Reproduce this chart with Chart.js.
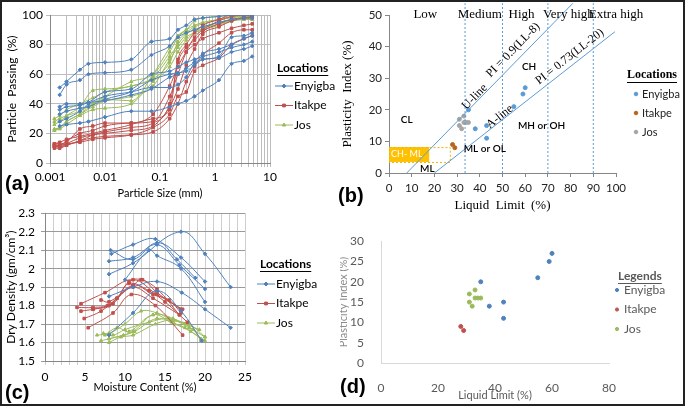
<!DOCTYPE html>
<html>
<head>
<meta charset="utf-8">
<script src="https://cdn.jsdelivr.net/npm/chart.js@4.4.1/dist/chart.umd.min.js"></script>
<style>
  body { margin: 0; background: #fff; }
  #wrap { position: relative; width: 685px; height: 406px; overflow: hidden; background: #fff; }
  canvas { position: absolute; }
  .tag { position: absolute; font: bold 20px "Liberation Sans", Arial, sans-serif; color: #000; line-height: 22px; }
  #frame { position: absolute; left: 0; top: 0; width: 681px; height: 402px; border: 2px solid #222; pointer-events: none; }
</style>
</head>
<body>
<div id="wrap">
  <canvas id="gradingChart" width="340" height="200" style="left:0;top:0"></canvas>
  <canvas id="plasticityChart" width="345" height="215" style="left:340px;top:0"></canvas>
  <canvas id="compactionChart" width="340" height="206" style="left:0;top:200px"></canvas>
  <canvas id="scatterChart" width="345" height="181" style="left:340px;top:225px"></canvas>
  <div class="tag" style="left:5px;top:172px">(a)</div>
  <div class="tag" style="left:338px;top:184px">(b)</div>
  <div class="tag" style="left:5px;top:381px">(c)</div>
  <div class="tag" style="left:340px;top:375px">(d)</div>
  <div id="frame"></div>
</div>
<script>
// ---------- data ----------
const locations = ['Enyigba', 'Itakpe', 'Jos'];

// (a) particle size distribution
const sizeTickLabels = ['0.001', '0.01', '0.1', '1', '10'];
const sieveSizes = [0.15, 0.212, 0.3, 0.425, 0.6, 1.18, 2, 3.35, 4.75];
const enyigbaFineSizes = [0.0015, 0.002, 0.0035, 0.005, 0.01, 0.03, 0.07];
const otherFineSizes = [0.0012, 0.0015, 0.002, 0.0035, 0.006, 0.01, 0.03, 0.075];

const enyigbaPassing = [
  [51, 55, 63, 67, 68, 70, 82, 84, 90, 93, 97, 98, 99, 100, 100, 100],
  [46, 53, 56, 60, 61, 63, 73, 79, 85, 88, 90, 92, 95, 97, 98, 98],
  [36, 38, 39, 41, 48, 50, 60, 62, 65, 68, 70, 72, 75, 78, 80, 82],
  [38, 40, 40, 41, 42, 46, 50, 58, 60, 64, 68, 70, 72, 85, 86, 88],
  [33, 35, 37, 38, 43, 48, 56, 60, 61, 62, 66, 70, 71, 75, 77, 79],
  [25, 26, 27, 28, 31, 35, 35, 38, 40, 42, 45, 49, 56, 67, 69, 72],
  [28, 30, 35, 40, 45, 48, 51, 51, 53, 58, 68, 74, 77, 80, 84, 86]
];
const itakpePassing = [
  [13, 13, 14, 23, 25, 27, 27, 30, 36, 70, 80, 88, 93, 97, 100, 100, 100],
  [12, 12, 15, 20, 22, 25, 27, 28, 45, 60, 75, 85, 90, 96, 99, 100, 100],
  [11, 11, 13, 17, 19, 20, 22, 25, 38, 50, 66, 77, 87, 92, 96, 98, 99],
  [11, 11, 12, 15, 17, 18, 19, 21, 30, 40, 55, 65, 73, 81, 88, 90, 90],
  [12, 12, 13, 14, 16, 17, 19, 24, 33, 45, 48, 62, 66, 71, 80, 84, 86],
  [10, 10, 12, 15, 19, 21, 24, 27, 40, 68, 78, 83, 89, 94, 97, 98, 98],
  [13, 14, 16, 18, 20, 22, 26, 33, 52, 65, 75, 80, 84, 88, 91, 93, 94]
];
const josPassing = [
  [22, 24, 28, 33, 40, 45, 55, 60, 75, 85, 90, 96, 98, 99, 100, 100, 100],
  [26, 28, 32, 38, 49, 50, 52, 58, 72, 80, 87, 90, 92, 95, 97, 98, 98],
  [23, 24, 28, 33, 38, 42, 45, 52, 70, 78, 85, 88, 90, 93, 96, 97, 97],
  [28, 30, 32, 35, 40, 43, 42, 60, 78, 86, 90, 93, 95, 97, 98, 99, 99],
  [22, 23, 26, 32, 36, 37, 40, 55, 65, 75, 83, 88, 91, 94, 96, 97, 97],
  [30, 32, 36, 40, 44, 48, 52, 57, 68, 82, 88, 92, 94, 97, 99, 99, 100]
];

// (b) and (d) Atterberg limits
const enyigbaLL = [35, 38, 43, 43, 55, 59, 60];
const enyigbaPI = [20, 14, 15, 11, 21, 25, 27];
const itakpeLL = [28, 29];
const itakpePI = [9, 8];
const josLL = [31, 31, 32, 33, 33, 34, 35];
const josPI = [17, 15, 14, 18, 16, 16, 16];

// (b) reference lines and zones
const uLineLL = [7.8, 81];
const uLinePI = [0, 53.7];
const aLineLL = [20, 99.5];
const aLinePI = [0, 44.7];
const boundaryLL = [33.5, 50, 70, 90];
const zoneNames = ['Low', 'Medium', 'High', 'Very high', 'Extra high'];
const zoneCentreLL = [16, 40, 58.4, 79, 100];
const symbolNames = ['CL', 'CH', 'MH or OH', 'ML or OL', 'ML'];
const symbolLL = [7.8, 61.7, 67.2, 42.2, 16.9];
const symbolPI = [16.7, 33.6, 14.8, 7.7, 1.4];
const chmlBoxLL = [0, 17.7, 26.8];
const chmlBoxPI = [3.5, 8.2];

// (c) compaction curves
const enyigbaMoisture = [
  [8.3, 11, 13.8, 16.5, 18.8],
  [8, 11, 17, 20, 23.2],
  [8.2, 11, 14, 17, 20],
  [8, 11, 14, 16.8, 20],
  [10, 13, 14, 17, 20],
  [8, 11, 14, 17.1, 20, 23.2],
  [8, 11, 14, 17, 19.6]
];
const enyigbaDensity = [
  [2.08, 2.13, 2.16, 2.05, 1.95],
  [1.97, 2.03, 2.20, 2.08, 1.90],
  [2.10, 2.05, 2.14, 2.06, 1.93],
  [2.04, 2.06, 2.13, 2.02, 1.89],
  [1.94, 2.10, 2.07, 2.00, 1.82],
  [1.85, 1.90, 1.93, 1.87, 1.78, 1.68],
  [1.64, 1.76, 1.88, 1.77, 1.61]
];
const itakpeMoisture = [
  [4.5, 7.5, 11, 14, 17.2],
  [4, 6, 8.5, 10.5, 12, 14, 16.8],
  [4.5, 6, 8, 11, 13.5, 15.5, 17],
  [4.9, 7, 9, 10.5, 13, 15, 17.8],
  [5.4, 8.5, 10.8, 13.8, 17.2],
  [6, 7.8, 9, 11, 13.5, 16.8],
  [7, 8, 11, 12.2, 14, 17]
];
const itakpeDensity = [
  [1.81, 1.87, 1.94, 1.86, 1.78],
  [1.79, 1.79, 1.81, 1.93, 1.94, 1.89, 1.75],
  [1.77, 1.78, 1.80, 1.91, 1.86, 1.83, 1.76],
  [1.73, 1.77, 1.84, 1.92, 1.88, 1.82, 1.71],
  [1.68, 1.76, 1.86, 1.80, 1.64],
  [1.78, 1.80, 1.84, 1.90, 1.84, 1.75],
  [1.83, 1.82, 1.91, 1.94, 1.87, 1.78]
];
const josMoisture = [
  [6.5, 8, 10, 12, 14, 16, 18, 20],
  [7, 8, 11, 13.5, 16, 18.5, 19.5],
  [7.3, 8.5, 10, 13, 15.5, 17.5, 19.3],
  [8, 9.5, 11, 13.8, 16, 18, 20],
  [7.5, 9, 10.5, 13.5, 15.8, 17.5, 19.5],
  [8, 9.8, 11.2, 14, 16.2, 18.2, 20]
];
const josDensity = [
  [1.64, 1.65, 1.70, 1.77, 1.76, 1.72, 1.70, 1.63],
  [1.61, 1.62, 1.66, 1.75, 1.73, 1.67, 1.61],
  [1.65, 1.64, 1.67, 1.71, 1.73, 1.70, 1.67],
  [1.60, 1.63, 1.64, 1.70, 1.72, 1.68, 1.63],
  [1.64, 1.68, 1.66, 1.75, 1.71, 1.68, 1.62],
  [1.62, 1.64, 1.66, 1.73, 1.70, 1.66, 1.61]
];

// ---------- styles ----------
const SANS = 'Lato, "Liberation Sans", sans-serif';
const SERIF = '"Liberation Serif", "Times New Roman", serif';
const lineColours = ['#4F81BD', '#C0504D', '#9BBB59'];
const lineMarkers = ['rectRot', 'rect', 'triangle'];
const plasticityColours = ['#5B9BD5', '#B8651B', '#A5A5A5'];

Chart.defaults.font.family = SANS;
Chart.defaults.font.size = 12;
Chart.defaults.color = '#000';
Chart.defaults.animation = false;
Chart.defaults.plugins.legend.display = false;
Chart.defaults.plugins.tooltip.enabled = false;

// side legend drawn in the right-hand margin
const sideLegend = {
  id: 'sideLegend',
  afterDraw(chart, args, o) {
    if (!o.title) return;
    const ctx = chart.ctx;
    ctx.save();
    ctx.textBaseline = 'middle';
    ctx.textAlign = 'left';
    ctx.fillStyle = o.titleColor || '#000';
    ctx.font = o.titleFont;
    ctx.fillText(o.title, o.x, o.y);
    const w = ctx.measureText(o.title).width;
    ctx.fillRect(o.x, o.y + o.underline, w, 1);
    ctx.font = o.font;
    o.colours.forEach((c, i) => {
      const y = o.y + o.first + i * o.gap;
      ctx.strokeStyle = c;
      ctx.fillStyle = c;
      if (o.line) {
        ctx.lineWidth = 1;
        ctx.beginPath();
        ctx.moveTo(o.mx - 9, y);
        ctx.lineTo(o.mx + 9, y);
        ctx.stroke();
      }
      Chart.helpers.drawPoint(ctx, { pointStyle: o.markers ? o.markers[i] : 'circle', radius: o.radius, rotation: 0, borderWidth: 1 }, o.mx, y);
      ctx.fillStyle = o.textColor || '#000';
      ctx.fillText(o.labels[i], o.tx, y);
    });
    ctx.restore();
  }
};

// plasticity chart annotations
const plasticityNotes = {
  id: 'plasticityNotes',
  beforeDatasetsDraw(chart, args, o) {
    if (!o.enabled) return;
    const { ctx, scales: { x, y } } = chart;
    const x0 = x.getPixelForValue(chmlBoxLL[0]), x1 = x.getPixelForValue(chmlBoxLL[1]), x2 = x.getPixelForValue(chmlBoxLL[2]);
    const yTop = y.getPixelForValue(chmlBoxPI[1]), yBot = y.getPixelForValue(chmlBoxPI[0]);
    ctx.save();
    ctx.fillStyle = '#FFC000';
    ctx.fillRect(x0, yTop, x1 - x0, yBot - yTop);
    ctx.setLineDash([2, 2]);
    ctx.strokeStyle = '#F0B400';
    ctx.lineWidth = 1;
    ctx.strokeRect(x0 + 0.5, yTop + 0.5, x2 - x0, yBot - yTop);
    ctx.setLineDash([]);
    ctx.fillStyle = '#fff';
    ctx.font = '9px ' + SANS;
    ctx.textBaseline = 'middle';
    ctx.fillText('CH- ML', x0 + 2, (yTop + yBot) / 2);
    ctx.restore();
  },
  afterDatasetsDraw(chart, args, o) {
    if (!o.enabled) return;
    const { ctx, scales: { x, y } } = chart;
    ctx.save();
    ctx.textAlign = 'center';
    ctx.textBaseline = 'middle';
    ctx.fillStyle = '#000';
    ctx.font = '13px ' + SERIF;
    zoneNames.forEach((n, i) => ctx.fillText(n, x.getPixelForValue(zoneCentreLL[i]), y.getPixelForValue(50)));
    ctx.font = '600 10px ' + SANS;
    symbolNames.forEach((n, i) => ctx.fillText(n, x.getPixelForValue(symbolLL[i]), y.getPixelForValue(symbolPI[i])));
    // rotated line labels
    const angleOf = (lx, ly) => Math.atan2(y.getPixelForValue(ly[1]) - y.getPixelForValue(ly[0]), x.getPixelForValue(lx[1]) - x.getPixelForValue(lx[0]));
    const uA = angleOf(uLineLL, uLinePI), aA = angleOf(aLineLL, aLinePI);
    const notes = [['U-line', 37.8, 24.1, uA], ['PI = 0.9(LL-8)', 54.7, 38.9, uA], ['A-line', 48.8, 17.8, aA], ['PI = 0.73(LL-20)', 79.6, 36.8, aA]];
    ctx.font = '12px ' + SERIF;
    notes.forEach(([t, lx, ly, a]) => {
      ctx.save();
      ctx.translate(x.getPixelForValue(lx), y.getPixelForValue(ly));
      ctx.rotate(a);
      ctx.fillText(t, 0, 0);
      ctx.restore();
    });
    ctx.restore();
  }
};
Chart.register(sideLegend, plasticityNotes);

// ---------- (a) grading curves ----------
function gradingSets(fine, curves, k) {
  const sizes = fine.concat(sieveSizes);
  return curves.map(p => ({
    data: sizes.map((s, i) => ({ x: s, y: p[i] })),
    showLine: true,
    borderColor: lineColours[k],
    backgroundColor: lineColours[k],
    borderWidth: 1,
    pointRadius: 1.8,
    pointStyle: lineMarkers[k],
    cubicInterpolationMode: 'monotone'
  }));
}

new Chart(document.getElementById('gradingChart'), {
  type: 'scatter',
  data: {
    datasets: [
      ...gradingSets(enyigbaFineSizes, enyigbaPassing, 0),
      ...gradingSets(otherFineSizes, itakpePassing, 1),
      ...gradingSets(otherFineSizes, josPassing, 2)
    ]
  },
  options: {
    responsive: false,
    layout: { padding: { left: 0, right: 70, top: 15, bottom: 0 } },
    plugins: {
      sideLegend: {
        title: 'Locations', titleFont: 'bold 12px ' + SANS, underline: 7, x: 277, y: 68,
        font: '12px ' + SANS, first: 18, gap: 19.5, mx: 284, tx: 294, radius: 2, line: true,
        labels: locations, colours: lineColours, markers: lineMarkers
      }
    },
    scales: {
      x: {
        type: 'logarithmic', min: 0.001, max: 10,
        afterFit: s => { s.height = 37; },
        grid: { color: '#BDBDBD', tickLength: 4 },
        border: { color: '#868686' },
        ticks: {
          autoSkip: false, maxRotation: 0, padding: 3, font: { size: 12 },
          callback: v => {
            const e = Math.log10(v);
            return Math.abs(e - Math.round(e)) < 1e-9 ? sizeTickLabels[Math.round(e) + 3] : '';
          }
        },
        title: { display: true, text: 'Particle Size (mm)', font: { size: 11 }, padding: { top: 0, bottom: 0 } }
      },
      y: {
        min: 0, max: 100,
        afterFit: s => { s.width = 50; },
        grid: { color: '#BDBDBD', tickLength: 4 },
        border: { color: '#868686' },
        ticks: { stepSize: 10, padding: 3 },
        title: { display: true, text: 'Particle  Passing  (%)', font: { size: 12 }, padding: { top: 5, bottom: 0 } }
      }
    }
  }
});

// ---------- (b) plasticity chart ----------
function pointsOf(xs, ys) { return xs.map((v, i) => ({ x: v, y: ys[i] })); }
const guideLine = (xs, ys, dash) => ({
  data: pointsOf(xs, ys), showLine: true, borderColor: '#5B9BD5', borderWidth: 1,
  borderDash: dash, pointRadius: 0, clip: false
});

new Chart(document.getElementById('plasticityChart'), {
  type: 'scatter',
  data: {
    datasets: [
      guideLine(uLineLL, uLinePI, []),
      guideLine(aLineLL, aLinePI, []),
      ...boundaryLL.map(v => guideLine([v, v], [0, 53.7], [2, 2])),
      { data: pointsOf(enyigbaLL, enyigbaPI), backgroundColor: plasticityColours[0], borderColor: plasticityColours[0], pointRadius: 2 },
      { data: pointsOf(itakpeLL, itakpePI), backgroundColor: plasticityColours[1], borderColor: plasticityColours[1], pointRadius: 2 },
      { data: pointsOf(josLL, josPI), backgroundColor: plasticityColours[2], borderColor: plasticityColours[2], pointRadius: 2 }
    ]
  },
  options: {
    responsive: false,
    layout: { padding: { left: 0, right: 69, top: 15, bottom: 0 } },
    plugins: {
      plasticityNotes: { enabled: true },
      sideLegend: {
        title: 'Locations', titleFont: 'bold 12px ' + SERIF, underline: 7, x: 287, y: 75,
        font: '11px ' + SANS, first: 19, gap: 19, mx: 296, tx: 302, radius: 1.8, line: false,
        labels: locations, colours: plasticityColours, textColor: '#222'
      }
    },
    scales: {
      x: {
        type: 'linear', min: 0, max: 100,
        afterFit: s => { s.height = 42; },
        grid: { drawOnChartArea: false, tickLength: 4, color: '#868686' },
        border: { color: '#868686' },
        ticks: { stepSize: 10, padding: 4, color: '#222', autoSkip: false, maxRotation: 0, minRotation: 0, font: { size: 11.5 } },
        title: { display: true, text: 'Liquid  Limit  (%)', font: { family: SERIF, size: 13 }, padding: { top: 0, bottom: 2 } }
      },
      y: {
        min: 0, max: 50,
        afterFit: s => { s.width = 49; },
        grid: { drawOnChartArea: false, tickLength: 4, color: '#868686' },
        border: { color: '#868686' },
        ticks: { stepSize: 5, padding: 3, color: '#222', font: { size: 11.5 } },
        title: { display: true, text: 'Plasticity  Index (%)', font: { family: SERIF, size: 13 }, padding: { top: 0, bottom: 0 } }
      }
    }
  }
});

// ---------- (c) compaction curves ----------
function compactionSets(xs, ys, k) {
  return xs.map((mc, j) => ({
    data: pointsOf(mc, ys[j]),
    showLine: true,
    borderColor: lineColours[k],
    backgroundColor: lineColours[k],
    borderWidth: 1,
    pointRadius: 1.8,
    pointStyle: lineMarkers[k],
    tension: 0.4
  }));
}

new Chart(document.getElementById('compactionChart'), {
  type: 'scatter',
  data: {
    datasets: [
      ...compactionSets(enyigbaMoisture, enyigbaDensity, 0),
      ...compactionSets(itakpeMoisture, itakpeDensity, 1),
      ...compactionSets(josMoisture, josDensity, 2)
    ]
  },
  options: {
    responsive: false,
    layout: { padding: { left: 0, right: 95, top: 12, bottom: 0 } },
    plugins: {
      sideLegend: {
        title: 'Locations', titleFont: 'bold 12px ' + SANS, underline: 7, x: 260, y: 64,
        font: '12px ' + SANS, first: 20, gap: 19.5, mx: 266, tx: 276, radius: 2, line: true,
        labels: locations, colours: lineColours, markers: lineMarkers
      }
    },
    scales: {
      x: {
        type: 'linear', min: 0, max: 25,
        afterFit: s => { s.height = 45; },
        grid: { color: '#CDCDCD', tickLength: 4 },
        border: { color: '#868686' },
        ticks: { stepSize: 1, autoSkip: false, maxRotation: 0, padding: 5, callback: v => (v % 5 === 0 ? String(v) : '') },
        title: { display: true, text: 'Moisture Content (%)', font: { size: 11 }, padding: { top: 0, bottom: 12 } }
      },
      y: {
        min: 1.5, max: 2.3,
        afterFit: s => { s.width = 45; },
        grid: { color: '#9A9A9A', tickLength: 4 },
        border: { color: '#868686' },
        ticks: { stepSize: 0.1, padding: 6, callback: v => String(parseFloat(v.toFixed(1))) },
        title: { display: true, text: 'Dry Density (gm/cm³)', font: { size: 12 }, padding: { top: 4, bottom: 0 } }
      }
    }
  }
});

// ---------- (d) LL vs PI scatter ----------
new Chart(document.getElementById('scatterChart'), {
  type: 'scatter',
  data: {
    datasets: [
      { data: pointsOf(enyigbaLL, enyigbaPI), backgroundColor: lineColours[0], borderColor: lineColours[0], pointRadius: 2 },
      { data: pointsOf(itakpeLL, itakpePI), backgroundColor: lineColours[1], borderColor: lineColours[1], pointRadius: 2 },
      { data: pointsOf(josLL, josPI), backgroundColor: lineColours[2], borderColor: lineColours[2], pointRadius: 2 }
    ]
  },
  options: {
    responsive: false,
    layout: { padding: { left: 0, right: 76, top: 15, bottom: 0 } },
    plugins: {
      sideLegend: {
        title: 'Legends', titleFont: 'bold 12px ' + SANS, titleColor: '#595959', underline: 7, x: 278, y: 51,
        font: '12px ' + SANS, first: 14, gap: 19.5, mx: 277, tx: 284, radius: 1.6, line: false,
        labels: locations, colours: lineColours, textColor: '#595959'
      }
    },
    scales: {
      x: {
        type: 'linear', min: 0, max: 80,
        afterFit: s => { s.height = 43; },
        grid: { display: false },
        border: { color: '#D9D9D9' },
        ticks: { stepSize: 20, padding: 10, color: '#595959' },
        title: { display: true, text: 'Liquid Limit (%)', color: '#595959', font: { size: 11 }, padding: { top: 0, bottom: 4 } }
      },
      y: {
        min: 0, max: 30,
        afterFit: s => { s.width = 41; },
        grid: { display: false },
        border: { color: '#D9D9D9' },
        ticks: { stepSize: 5, padding: 9, color: '#595959' },
        title: { display: true, text: 'Plasticity Index (%)', color: '#8C8C8C', font: { size: 11 }, padding: { top: -3, bottom: 0 } }
      }
    }
  }
});
</script>
</body>
</html>
